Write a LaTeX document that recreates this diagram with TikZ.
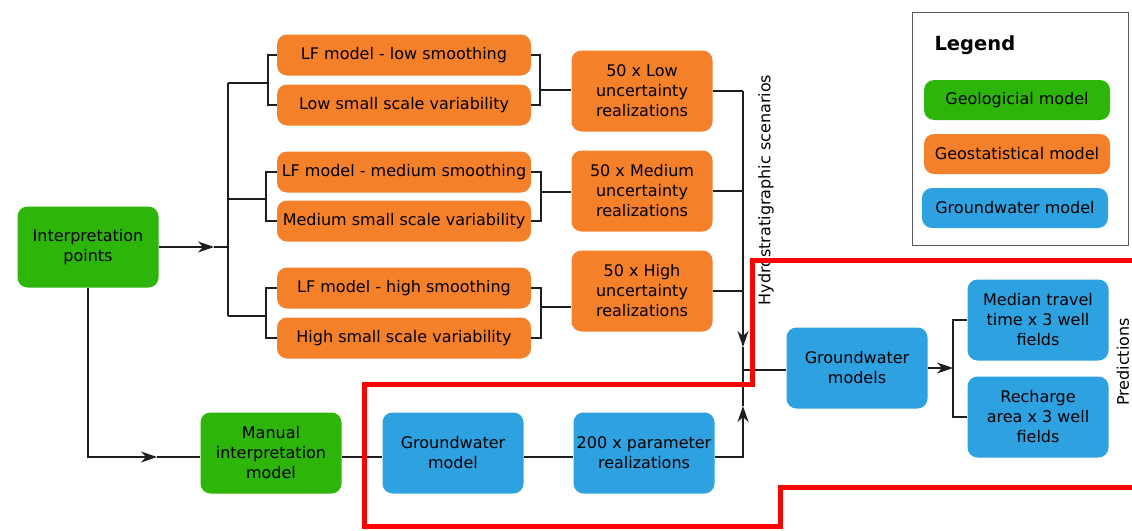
\documentclass[tikz,border=0pt]{standalone}
\usepackage{fontspec}
\setmainfont{DejaVu Sans}
\usetikzlibrary{arrows.meta}
\definecolor{geogreen}{RGB}{45,181,10}
\definecolor{geoorange}{RGB}{245,128,42}
\definecolor{gwblue}{RGB}{46,161,224}
\definecolor{linec}{RGB}{30,30,30}
\tikzset{
  box/.style={rounded corners=10pt, inner sep=0pt, align=center, text=black,
    font=\fontsize{16}{20}\selectfont},
  geobox/.style={box, fill=geogreen},
  statbox/.style={box, fill=geoorange},
  gwbox/.style={box, fill=gwblue},
  wide/.style={minimum width=254pt, minimum height=41pt},
  big/.style={minimum width=141pt, minimum height=81pt},
  leg/.style={minimum width=186pt, minimum height=40pt},
  conn/.style={draw=linec, line width=1.2pt},
  arr/.style={conn, -{Stealth[length=16pt,width=11pt,inset=5pt]}},
  redline/.style={draw=red, line width=5pt, line join=miter},
  sidelabel/.style={rotate=90, font=\fontsize{16}{18}\selectfont, text=black}
}
\begin{document}
\begin{tikzpicture}[x=1pt,y=-1pt]
\useasboundingbox (0,0) rectangle (1132,530);
\fill[white] (0,0) rectangle (1132,530);

% nodes
\node[geobox,big] (ip) at (88,247) {Interpretation\\points};
\node[statbox,wide] (lf1) at (404,55) {LF model - low smoothing};
\node[statbox,wide] (lv1) at (404,105) {Low small scale variability};
\node[statbox,wide] (lf2) at (404,172) {LF model - medium smoothing};
\node[statbox,wide] (lv2) at (404,221) {Medium small scale variability};
\node[statbox,wide] (lf3) at (404,288) {LF model - high smoothing};
\node[statbox,wide] (lv3) at (404,338) {High small scale variability};
\node[statbox,big] (r1) at (642,91) {50 x Low\\uncertainty\\realizations};
\node[statbox,big] (r2) at (642,191) {50 x Medium\\uncertainty\\realizations};
\node[statbox,big] (r3) at (642,291) {50 x High\\uncertainty\\realizations};
\node[gwbox,big] (gws) at (857,368) {Groundwater\\models};
\node[gwbox,big] (mt) at (1038,320) {Median travel\\time x 3 well\\fields};
\node[gwbox,big] (ra) at (1038,417) {Recharge\\area x 3 well\\fields};
\node[geobox,big] (mim) at (271,453) {Manual\\interpretation\\model};
\node[gwbox,big] (gw) at (453,453) {Groundwater\\model};
\node[gwbox,big] (pr) at (644,453) {200 x parameter\\realizations};

% legend
\node[draw=black!65, line width=1pt, minimum width=216pt, minimum height=233pt, inner sep=0pt] (legframe) at (1020,128.5) {};
\node[anchor=west, font=\fontsize{19.5}{22}\selectfont\bfseries, text=black] (legtitle) at (931,45) {Legend};
\node[geobox,leg] (lg1) at (1017,100) {Geologicial model};
\node[statbox,leg] (lg2) at (1017,154) {Geostatistical model};
\node[gwbox,leg] (lg3) at (1015,208) {Groundwater model};

% side labels
\node[sidelabel] (hs) at (766,190) {Hydrostratigraphic scenarios};
\node[sidelabel] (pd) at (1123,362) {Predictions};

% left tree
\coordinate (ipt) at (214,247);
\coordinate (t1) at (228,83);
\coordinate (t2) at (228,199);
\coordinate (t3) at (228,316);
\coordinate (bl1) at (268,83);
\coordinate (bl2) at (266,199);
\coordinate (bl3) at (266,316);
\draw[arr] (ip.east) -- (ipt);
\draw[conn] (ipt) -- (t1 |- ipt);
\draw[conn] (t1) -- (t3);
\draw[conn] (t1) -- (bl1);
\draw[conn] (t2) -- (bl2);
\draw[conn] (t3) -- (bl3);
\draw[conn] (lf1.west) -| (bl1) |- (lv1.west);
\draw[conn] (lf2.west) -| (bl2) |- (lv2.west);
\draw[conn] (lf3.west) -| (bl3) |- (lv3.west);

% right brackets
\coordinate (br1) at (540,90);
\coordinate (br2) at (541,192);
\coordinate (br3) at (541,307);
\draw[conn] (lf1.east) -| (br1) |- (lv1.east);
\draw[conn] (lf2.east) -| (br2) |- (lv2.east);
\draw[conn] (lf3.east) -| (br3) |- (lv3.east);
\draw[conn] (br1) -- (r1.west |- br1);
\draw[conn] (br2) -- (r2.west |- br2);
\draw[conn] (br3) -- (r3.west |- br3);

% collector
\coordinate (c1) at (743,91);
\coordinate (c2) at (743,191);
\coordinate (c3) at (743,291);
\coordinate (cdn) at (743,347);
\coordinate (cj) at (743,370);
\coordinate (cup) at (743,406);
\coordinate (row) at (0,457);
\draw[conn] (r1.east) -- (c1);
\draw[conn] (r2.east) -- (c2);
\draw[conn] (r3.east) -- (c3);
\draw[arr] (c1) -- (cdn);
\draw[conn] (cdn) -- (cj);
\draw[arr] (pr.east |- row) -| (cup);
\draw[conn] (cup) -- (cj);
\draw[conn] (cj) -- (gws.west |- cj);

% outputs
\coordinate (ot) at (953,368);
\draw[arr] (gws.east) -- (ot);
\draw[conn] (mt.west) -| (ot) |- (ra.west);

% bottom row
\coordinate (at2) at (157,457);
\draw[arr] (ip.south) |- (at2);
\draw[conn] (at2) -- (mim.west |- row);
\draw[conn] (mim.east |- row) -- (gw.west |- row);
\draw[conn] (gw.east |- row) -- (pr.west |- row);

% red outline
\draw[redline] (1140,260) -- (752,260) -- (752,384) -- (364,384) -- (364,526) -- (780,526) -- (780,487) -- (1140,487);
\end{tikzpicture}
\end{document}
